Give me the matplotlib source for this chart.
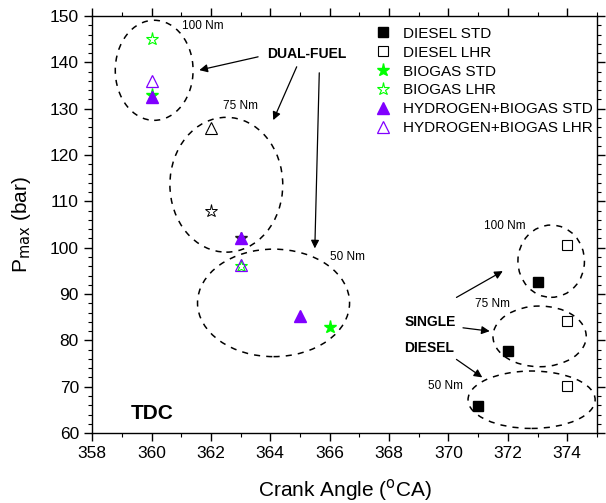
import matplotlib
matplotlib.use("Agg")
import matplotlib.pyplot as plt
from matplotlib.patches import Ellipse
from matplotlib.ticker import MultipleLocator

plt.rcParams['font.family'] = ['Liberation Sans', 'DejaVu Sans']

GREEN = '#00ff00'
PURPLE = '#8000ff'

# Peak pressure (bar) versus crank angle of peak (deg CA)
diesel_std_x = [373, 372, 371]
diesel_std_y = [92.6, 77.8, 65.8]
diesel_lhr_x = [374, 374, 374]
diesel_lhr_y = [100.7, 84.2, 70.2]
biogas_std_x = [360, 366]
biogas_std_y = [133, 83]
biogas_lhr_x = [360, 363]
biogas_lhr_y = [145, 96]
h2_std_x = [360, 363, 365]
h2_std_y = [132.5, 102, 85.2]
h2_lhr_x = [360, 363]
h2_lhr_y = [136, 96.2]
extra_tri_x = [362]
extra_tri_y = [125.8]
extra_star_x = [362]
extra_star_y = [108]
dark_star_x = [363]
dark_star_y = [102]

# Load groups: (centre x, centre y, width, height)
groups = [
    (360.09, 138.3, 2.62, 21.6),
    (362.52, 113.6, 3.8, 29.1),
    (364.11, 88.1, 5.12, 23.2),
    (373.46, 97.1, 2.24, 15.6),
    (373.07, 80.87, 3.14, 13.1),
    (372.8, 67.2, 4.28, 12.4),
]
load_labels = [
    (361.03, 147.9, '100 Nm'),
    (362.4, 130.6, '75 Nm'),
    (366.0, 98.0, '50 Nm'),
    (371.2, 104.7, '100 Nm'),
    (370.88, 87.8, '75 Nm'),
    (369.3, 70.2, '50 Nm'),
]
arrows = [
    ((363.59, 141.21), (361.61, 138.34)),
    ((364.89, 139.06), (364.10, 127.55)),
    ((365.65, 137.76), (365.50, 99.86)),
    ((370.27, 89.28), (371.83, 94.96)),
    ((370.49, 82.72), (371.39, 82.0)),
    ((370.27, 75.90), (371.14, 72.02)),
]

fig = plt.figure(figsize=(6.06, 5.03), dpi=100)
ax = fig.add_axes([0.152, 0.139, 0.833, 0.829])

for cx, cy, w, h in groups:
    ax.add_patch(Ellipse((cx, cy), w, h, fill=False, ls=(0, (4, 4)),
                         lw=1.1, ec='black', zorder=1))

ax.plot(dark_star_x, dark_star_y, ls='none', marker='*', ms=9,
        mfc='#202020', mec='#202020', zorder=2)
ax.plot(diesel_std_x, diesel_std_y, ls='none', marker='s', ms=6.5,
        mfc='black', mec='black', label='DIESEL STD', zorder=3)
ax.plot(diesel_lhr_x, diesel_lhr_y, ls='none', marker='s', ms=6.5,
        mfc='white', mec='black', mew=0.8, label='DIESEL LHR', zorder=3)
ax.plot(biogas_std_x, biogas_std_y, ls='none', marker='*', ms=9.5,
        mfc=GREEN, mec=GREEN, label='BIOGAS STD', zorder=3)
ax.plot(biogas_lhr_x, biogas_lhr_y, ls='none', marker='*', ms=9.5,
        mfc='white', mec=GREEN, mew=0.8, label='BIOGAS LHR', zorder=3)
ax.plot(h2_std_x, h2_std_y, ls='none', marker='^', ms=8,
        mfc=PURPLE, mec=PURPLE, label='HYDROGEN+BIOGAS STD', zorder=4)
ax.plot(h2_lhr_x, h2_lhr_y, ls='none', marker='^', ms=8,
        mfc='none', mec=PURPLE, mew=0.9, label='HYDROGEN+BIOGAS LHR', zorder=4)
ax.plot(extra_tri_x, extra_tri_y, ls='none', marker='^', ms=8.5,
        mfc='white', mec='black', mew=0.8, zorder=3)
ax.plot(extra_star_x, extra_star_y, ls='none', marker='*', ms=9.5,
        mfc='white', mec='black', mew=0.7, zorder=3)

for x, y, s in load_labels:
    ax.text(x, y, s, fontsize=8.5, ha='left', va='center')

for (x0, y0), (x1, y1) in arrows:
    ax.annotate('', xy=(x1, y1), xytext=(x0, y0),
                arrowprops=dict(arrowstyle='-|>', lw=0.9, color='black',
                                mutation_scale=12, shrinkA=0, shrinkB=0))

ax.text(363.88, 141.9, 'DUAL-FUEL', fontsize=10, fontweight='bold',
        ha='left', va='center')
ax.text(368.53, 84.0, 'SINGLE', fontsize=10, fontweight='bold',
        ha='left', va='center')
ax.text(368.5, 78.3, 'DIESEL', fontsize=10, fontweight='bold',
        ha='left', va='center')
ax.text(359.3, 64.3, 'TDC', fontsize=15, fontweight='bold',
        ha='left', va='center')

ax.set_xlim(358, 375)
ax.set_ylim(60, 150)
ax.xaxis.set_major_locator(MultipleLocator(2))
ax.xaxis.set_minor_locator(MultipleLocator(1))
ax.yaxis.set_major_locator(MultipleLocator(10))
ax.yaxis.set_minor_locator(MultipleLocator(2))
ax.tick_params(which='both', direction='out', top=True, right=True,
               labeltop=False, labelright=False, labelsize=12.5)
ax.tick_params(which='major', length=6, width=1)
ax.tick_params(which='minor', length=3, width=0.8)
for sp in ax.spines.values():
    sp.set_linewidth(1.0)

ax.set_xlabel('Crank Angle ($^{\\mathrm{o}}$CA)', fontsize=15, labelpad=11)
ax.set_ylabel('P$_{\\mathrm{max}}$ (bar)', fontsize=15, labelpad=12)

ax.legend(loc='upper right', bbox_to_anchor=(1.012, 1.0), frameon=False,
          fontsize=11, handlelength=1.0, handletextpad=0.8,
          labelspacing=0.32, borderaxespad=0.3)

fig.savefig('out.png', dpi=100)
